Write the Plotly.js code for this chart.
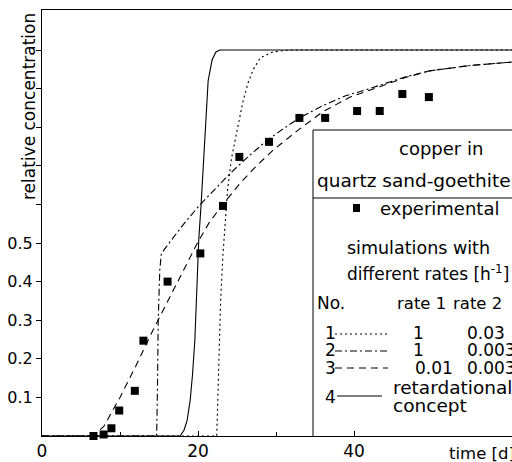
<!DOCTYPE html>
<html>
<head>
<meta charset="utf-8">
<script src="https://cdn.plot.ly/plotly-3.0.1.min.js"></script>
<style>html,body{margin:0;padding:0;overflow:hidden;background:#fff}#chart{width:512px;height:462px}</style>
</head>
<body>
<div id="chart"></div>
<script>
// experimental data
const expTime = [6.6, 7.9, 8.9, 9.9, 11.9, 13.0, 16.1, 20.3, 23.2, 25.3, 29.1, 33.0, 36.3, 40.4, 43.3, 46.2, 49.6];
const expConc = [0.0, 0.004, 0.02, 0.066, 0.117, 0.247, 0.40, 0.473, 0.596, 0.723, 0.762, 0.824, 0.824, 0.842, 0.842, 0.886, 0.878];

// simulation 1 (rate1 = 1, rate2 = 0.03) dotted
const sim1Time = [0, 22.4, 22.55, 22.7, 22.9, 23.2, 23.8, 24.3, 25.0, 25.8, 26.5, 27.1, 28.0, 29.6, 31.8, 61];
const sim1Conc = [0, 0, 0.10, 0.22, 0.35, 0.47, 0.64, 0.72, 0.79, 0.87, 0.92, 0.95, 0.98, 0.995, 1.0, 1.0];

// simulation 2 (rate1 = 1, rate2 = 0.003) dash-dot
const sim2Time = [0, 14.7, 14.8, 14.9, 15.1, 15.3, 16.6, 18.4, 20.3, 22.2, 24.1, 26.5, 28.8, 31.0, 33.0, 36.0, 39.0, 41.7, 43.3, 46.5, 49.7, 55.0, 61];
const sim2Conc = [0, 0, 0.12, 0.30, 0.43, 0.473, 0.508, 0.555, 0.60, 0.64, 0.68, 0.725, 0.765, 0.797, 0.824, 0.856, 0.882, 0.898, 0.909, 0.93, 0.946, 0.96, 0.97];

// simulation 3 (rate1 = 0.01, rate2 = 0.003) dashed
const sim3Time = [0, 6.0, 6.8, 7.9, 10, 12, 14, 16, 18, 20, 21.5, 23.2, 25.4, 27.5, 29.6, 33, 36, 39.5, 43.3, 46.5, 49.7, 55, 61];
const sim3Conc = [0, 0, 0.006, 0.024, 0.10, 0.18, 0.265, 0.345, 0.425, 0.503, 0.555, 0.60, 0.655, 0.70, 0.74, 0.795, 0.84, 0.878, 0.905, 0.928, 0.946, 0.96, 0.97];

// simulation 4 (retardational concept) solid
const sim4Time = [0, 17.7, 18.2, 18.6, 19.0, 19.3, 19.6, 19.9, 20.1, 20.4, 20.9, 21.3, 21.8, 22.3, 22.8, 61];
const sim4Conc = [0, 0, 0.015, 0.04, 0.093, 0.16, 0.25, 0.42, 0.51, 0.60, 0.77, 0.92, 0.974, 0.995, 1.0, 1.0];

// axis ticks
const yTickVals = [0.1, 0.2, 0.3, 0.4, 0.5];
const yTickText = ['0.1', '0.2', '0.3', '0.4', '0.5'];
const yMinorVals = [0.6, 0.7, 0.8, 0.9, 1.0];
const xTickVals = [0, 20, 40];
const xTickText = ['0', '20', '40'];
const xMinorVals = [10, 30];

// legend table
const legendRows = ['1', '2', '3', '4'];
const rate1Text = ['1', '1', '0.01'];
const rate2Text = ['0.03', '0.003', '0.003'];

const FONT = 'DejaVu Sans, sans-serif';
const L = 42, R = 512, T = 10, B = 436;
const X = p => (p - L) / (R - L);
const Y = p => (B - p) / (B - T);

const lineStyle = (dash) => ({color: '#000', width: 1.1, dash: dash});
const DOT = '2px,3px', DASHDOT = '7px,3px,2px,3px', DASH = '7px,5px';

const traces = [
  {x: sim1Time, y: sim1Conc, mode: 'lines', line: lineStyle(DOT), hoverinfo: 'skip'},
  {x: sim2Time, y: sim2Conc, mode: 'lines', line: lineStyle(DASHDOT), hoverinfo: 'skip'},
  {x: sim3Time, y: sim3Conc, mode: 'lines', line: lineStyle(DASH), hoverinfo: 'skip'},
  {x: sim4Time, y: sim4Conc, mode: 'lines', line: lineStyle('solid'), hoverinfo: 'skip'},
  {x: expTime, y: expConc, mode: 'markers', cliponaxis: false,
   marker: {symbol: 'square', size: 8, color: '#000'}}
];

const ann = (text, px, py, xanchor, size) => ({
  text: text, xref: 'paper', yref: 'paper', x: X(px), y: Y(py),
  xanchor: xanchor || 'left', yanchor: 'middle', showarrow: false,
  font: {family: FONT, size: size || 18, color: '#000'}
});

const annotations = [
  {text: 'relative concentration', xref: 'paper', yref: 'paper', x: X(29), y: Y(107),
   xanchor: 'center', yanchor: 'middle', textangle: -90, showarrow: false,
   font: {family: FONT, size: 17, color: '#000'}},
  ann('copper in', 441, 148, 'center'),
  ann('quartz sand-goethite', 315, 180, 'left', 18.5),
  ann('experimental', 378, 208),
  ann('simulations with', 345, 248, 'left', 17.5),
  ann('different rates [h<sup>-1</sup>]', 345, 273, 'left', 17),
  ann('No.', 315, 303, 'left', 17),
  ann('rate 1', 395, 303, 'left', 16.5),
  ann('rate 2', 451, 303, 'left', 16.5),
  ann(legendRows[0], 330, 333, 'center', 17),
  ann(legendRows[1], 330, 350, 'center', 17),
  ann(legendRows[2], 330, 368, 'center', 17),
  ann(legendRows[3], 330, 397, 'center', 17),
  ann(rate1Text[0], 418, 333, 'center', 17),
  ann(rate1Text[1], 418, 350, 'center', 17),
  ann(rate1Text[2], 413, 368, 'left', 17),
  ann(rate2Text[0], 465, 333, 'left', 17),
  ann(rate2Text[1], 465, 350, 'left', 17),
  ann(rate2Text[2], 465, 368, 'left', 17),
  ann('retardational', 391, 387, 'left', 18.5),
  ann('concept', 391, 405, 'left', 18.5),
  ann('time [d]', 447, 453, 'left', 16.5)
];

const seg = (x0, y0, x1, y1, dash) => ({
  type: 'line', xref: 'paper', yref: 'paper', x0: X(x0), y0: Y(y0), x1: X(x1), y1: Y(y1),
  line: {color: '#000', width: 1, dash: dash || 'solid'}
});

const shapes = [
  seg(313, 436, 313, 130),
  seg(313, 130, 640, 130),
  seg(313, 198, 640, 198),
  {type: 'rect', xref: 'paper', yref: 'paper', x0: X(353), x1: X(360), y0: Y(212), y1: Y(204),
   fillcolor: '#000', line: {width: 0}},
  seg(335, 334, 388, 334, DOT),
  seg(335, 351, 388, 351, DASHDOT),
  seg(335, 368, 388, 368, DASH),
  seg(337, 396, 382, 396, 'solid')
];

const layout = {
  width: 512, height: 462,
  margin: {l: L, r: 512 - R, t: T, b: 462 - B, pad: 0},
  paper_bgcolor: '#fff', plot_bgcolor: '#fff',
  showlegend: false,
  font: {family: FONT, color: '#000'},
  xaxis: {
    range: [0, (R - L) / 7.8], showgrid: false, zeroline: false,
    showline: true, linecolor: '#000', linewidth: 1, mirror: true,
    ticks: 'inside', ticklen: 5, tickcolor: '#000',
    tickmode: 'array', tickvals: xTickVals, ticktext: xTickText,
    minor: {tickmode: 'array', tickvals: xMinorVals, ticks: 'inside', ticklen: 4, tickcolor: '#000', showgrid: false},
    tickfont: {family: FONT, size: 17, color: '#000'}
  },
  yaxis: {
    range: [0, (B - T) / 386], showgrid: false, zeroline: false,
    showline: true, linecolor: '#000', linewidth: 1,
    ticks: 'outside', ticklen: 5, tickcolor: '#000',
    tickmode: 'array', tickvals: yTickVals, ticktext: yTickText,
    minor: {tickmode: 'array', tickvals: yMinorVals, ticks: 'outside', ticklen: 5, tickcolor: '#000', showgrid: false},
    tickfont: {family: FONT, size: 16, color: '#000'}
  },
  annotations: annotations,
  shapes: shapes
};

Plotly.newPlot('chart', traces, layout, {staticPlot: true, displayModeBar: false});
</script>
</body>
</html>
